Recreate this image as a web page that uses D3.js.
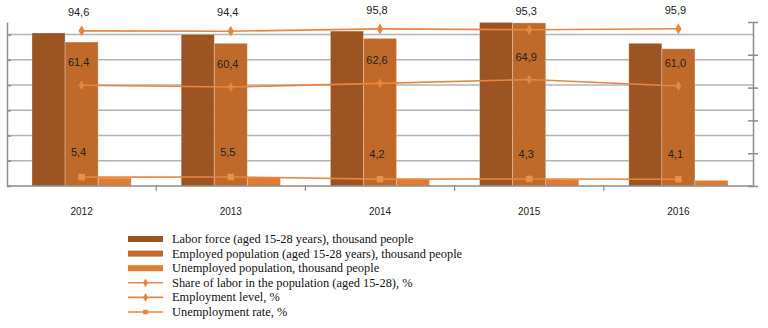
<!DOCTYPE html>
<html>
<head>
<meta charset="utf-8">
<style>
    body { margin: 0; background: #fff; }
    .grid line { stroke: #b3b3b3; stroke-width: 1.5; }
    .axis path, .axis line { stroke: #8c8c8c; stroke-width: 1.5; }
    .val { font-family: "Liberation Sans Narrow", "Liberation Sans", sans-serif; font-size: 11px; fill: #222; }
    .year { font-family: "Liberation Sans Narrow", "Liberation Sans", sans-serif; font-size: 10px; fill: #222; }
    .legend text { font-family: "Liberation Serif", serif; font-size: 12.4px; fill: #111; }
</style>
</head>
<body>
<script src="https://cdn.jsdelivr.net/npm/d3@7/dist/d3.min.js"></script>
<script>
    var years = ["2012", "2013", "2014", "2015", "2016"];

    // thousand people (left axis, no visible labels)
    var laborForce = [1213, 1202, 1228, 1297, 1131];
    var employed = [1141, 1131, 1170, 1293, 1088];
    var unemployed = [63, 66, 53, 53, 45];

    // % (right axis)
    var shareLabor = [94.6, 94.4, 95.8, 95.3, 95.9];
    var employmentLevel = [61.4, 60.4, 62.6, 64.9, 61.0];
    var unemploymentRate = [5.4, 5.5, 4.2, 4.3, 4.1];

    var leftTicks = [0, 200, 400, 600, 800, 1000, 1200];
    var rightTicks = [0, 20, 40, 60, 80, 100];

    var barSeries = [
        { name: "Labor force (aged 15-28 years), thousand people", values: laborForce, color: "#9c5522" },
        { name: "Employed population (aged 15-28 years), thousand people", values: employed, color: "#bf6a2a" },
        { name: "Unemployed population, thousand people", values: unemployed, color: "#e07c31" }
    ];
    var lineSeries = [
        { name: "Share of labor in the population (aged 15-28), %", values: shareLabor, marker: "diamond", size: 34, dy: -15 },
        { name: "Employment level, %", values: employmentLevel, marker: "diamond", size: 28, dy: -19 },
        { name: "Unemployment rate, %", values: unemploymentRate, marker: "square", size: 42, dy: -21 }
    ];
    var lineColor = "#e8863f";

    var width = 768, height = 328;
    var plotL = 7, plotR = 753, plotT = 22, plotB = 186;

    var svg = d3.select("body").append("svg")
            .attr("width", width)
            .attr("height", height);

    var x0 = d3.scaleBand().domain(years).range([plotL, plotR]);
    var x1 = d3.scaleBand().domain(d3.range(barSeries.length))
            .range([25, x0.bandwidth() - 25]);
    var yL = d3.scaleLinear().domain([0, 1300]).range([plotB, plotT]);
    var yR = d3.scaleLinear().domain([0, 100]).range([plotB, plotT]);

    // gridlines
    svg.append("g").attr("class", "grid")
            .selectAll("line")
            .data(leftTicks.slice(1))
            .enter().append("line")
            .attr("x1", plotL).attr("x2", plotR)
            .attr("y1", function(d) { return yL(d); })
            .attr("y2", function(d) { return yL(d); });

    // bars
    var groups = svg.selectAll(".yr")
            .data(years)
            .enter().append("g")
            .attr("class", "yr")
            .attr("transform", function(d) { return "translate(" + x0(d) + ",0)"; });

    groups.selectAll("rect")
            .data(function(d, i) {
                return barSeries.map(function(s, j) { return { j: j, v: s.values[i], color: s.color }; });
            })
            .enter().append("rect")
            .attr("x", function(d) { return x1(d.j); })
            .attr("width", x1.bandwidth())
            .attr("y", function(d) { return yL(d.v); })
            .attr("height", function(d) { return plotB - yL(d.v); })
            .attr("fill", function(d) { return d.color; })
            .attr("stroke", "rgba(255,255,255,0.35)")
            .attr("stroke-width", 0.8);

    // axes
    svg.append("g").attr("class", "axis")
            .attr("transform", "translate(" + plotL + ",0)")
            .call(d3.axisLeft(yL).tickValues(leftTicks).tickSize(5).tickSizeOuter(0).tickFormat(""))
            .selectAll(".tick line").attr("x2", 4);

    svg.append("g").attr("class", "axis")
            .attr("transform", "translate(" + plotR + ",0)")
            .call(d3.axisRight(yR).tickValues(rightTicks).tickSize(5).tickSizeOuter(0).tickFormat(""))
            .selectAll(".tick line").attr("x1", -5);

    svg.append("line")
            .attr("x1", plotL).attr("x2", plotR)
            .attr("y1", plotB).attr("y2", plotB)
            .attr("stroke", "#8c8c8c").attr("stroke-width", 1.5);

    svg.append("g").selectAll("line")
            .data(years.slice(1))
            .enter().append("line")
            .attr("x1", function(d) { return x0(d); })
            .attr("x2", function(d) { return x0(d); })
            .attr("y1", plotB - 1).attr("y2", plotB + 5)
            .attr("stroke", "#8c8c8c").attr("stroke-width", 1.2);

    svg.append("g").selectAll("text")
            .data(years)
            .enter().append("text")
            .attr("class", "year")
            .attr("x", function(d) { return x0(d) + x0.bandwidth() / 2; })
            .attr("y", 215)
            .attr("text-anchor", "middle")
            .text(function(d) { return d; });

    // lines
    var cx = function(d, i) { return x0(years[i]) + x0.bandwidth() / 2; };
    var fmt = function(v) { return d3.format(".1f")(v).replace(".", ","); };

    lineSeries.forEach(function(s) {
        var line = d3.line()
                .x(function(d, i) { return cx(d, i); })
                .y(function(d) { return yR(d); });
        svg.append("path")
                .datum(s.values)
                .attr("d", line)
                .attr("fill", "none")
                .attr("stroke", lineColor)
                .attr("stroke-width", 1.6);

        var sym = d3.symbol()
                .type(s.marker === "square" ? d3.symbolSquare : d3.symbolDiamond)
                .size(s.size);
        svg.append("g").selectAll("path")
                .data(s.values)
                .enter().append("path")
                .attr("d", sym)
                .attr("transform", function(d, i) { return "translate(" + cx(d, i) + "," + yR(d) + ")"; })
                .attr("fill", s.marker === "square" ? "#eb9150" : lineColor);

        svg.append("g").selectAll("text")
                .data(s.values)
                .enter().append("text")
                .attr("class", "val")
                .attr("x", function(d, i) { return cx(d, i) - 3; })
                .attr("y", function(d) { return yR(d) + s.dy; })
                .attr("text-anchor", "middle")
                .text(fmt);
    });

    // legend
    var legend = svg.append("g").attr("class", "legend")
            .attr("transform", "translate(128,239)");
    var rowH = 14.6;

    barSeries.forEach(function(s, i) {
        var g = legend.append("g").attr("transform", "translate(0," + (i * rowH) + ")");
        g.append("rect").attr("x", 0).attr("y", -3).attr("width", 35).attr("height", 6).attr("fill", s.color);
        g.append("text").attr("x", 44).attr("y", 4).text(s.name);
    });
    lineSeries.forEach(function(s, i) {
        var g = legend.append("g").attr("transform", "translate(0," + ((i + 3) * rowH) + ")");
        g.append("line").attr("x1", 0).attr("x2", 35).attr("y1", 0).attr("y2", 0)
                .attr("stroke", lineColor).attr("stroke-width", 1.6);
        g.append("path")
                .attr("d", d3.symbol().type(s.marker === "square" ? d3.symbolSquare : d3.symbolDiamond).size(22))
                .attr("transform", "translate(17.5,0)")
                .attr("fill", lineColor);
        g.append("text").attr("x", 44).attr("y", 4).text(s.name);
    });
</script>
</body>
</html>
